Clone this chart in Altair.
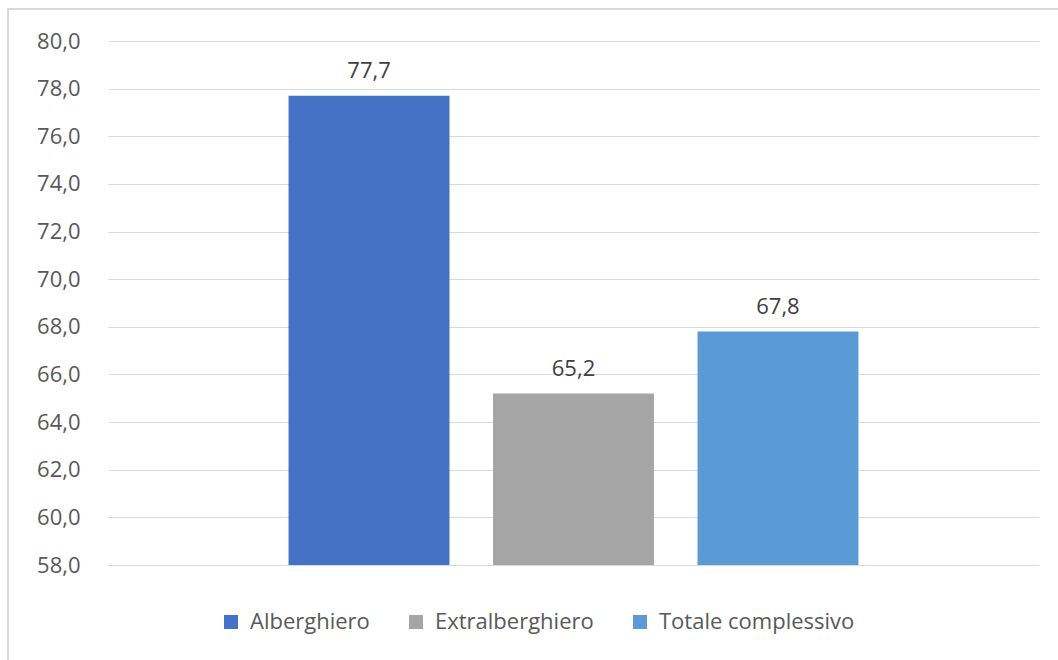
import altair as alt
import pandas as pd

# Occupancy-style index by accommodation type
series = ["Alberghiero", "Extralberghiero", "Totale complessivo"]
values = [77.7, 65.2, 67.8]
colors = ["#4472C4", "#A5A5A5", "#5B9BD5"]
y_ticks = [58, 60, 62, 64, 66, 68, 70, 72, 74, 76, 78, 80]

df = pd.DataFrame({"serie": series, "valore": values})

FONT = "Open Sans"
TXT = "#595959"
FS = 22

x_enc = alt.X(
    "serie:N",
    sort=series,
    axis=None,
    scale=alt.Scale(paddingInner=0.213, paddingOuter=0.883),
)

bars = alt.Chart(df).mark_bar().encode(
    x=x_enc,
    y=alt.Y(
        "valore:Q",
        scale=alt.Scale(domain=[58, 80], zero=False, nice=False),
        axis=alt.Axis(
            values=y_ticks,
            labelExpr="replace(format(datum.value, '.1f'), '.', ',')",
            title=None,
            domain=False,
            ticks=False,
            labelPadding=28,
            labelFont=FONT,
            labelFontSize=FS,
            labelColor=TXT,
            gridColor="#D9D9D9",
            gridWidth=1,
        ),
    ),
    y2=alt.datum(58),
    color=alt.Color(
        "serie:N",
        sort=series,
        scale=alt.Scale(domain=series, range=colors),
        legend=alt.Legend(
            title=None,
            orient="none",
            direction="horizontal",
            legendX=112,
            legendY=570,
            symbolType="square",
            symbolSize=196,
            symbolStrokeWidth=0,
            labelFont=FONT,
            labelFontSize=FS,
            labelColor=TXT,
            labelOffset=8,
            labelLimit=400,
            columnPadding=35,
        ),
    ),
)

labels = alt.Chart(df).transform_calculate(
    lab="replace(format(datum.valore, '.1f'), '.', ',')"
).mark_text(
    baseline="middle", dy=-25, font=FONT, fontSize=FS, color="#404040"
).encode(
    x=x_enc,
    y=alt.Y("valore:Q"),
    text="lab:N",
)

# Light outer frame around the chart area
frame = alt.Chart(df).mark_rect(
    fill=None, stroke="#D9D9D9", strokeWidth=1.5
).encode(
    x=alt.value(-100), x2=alt.value(960), y=alt.value(-32), y2=alt.value(640)
)

chart = alt.layer(frame, bars, labels).properties(
    width=931,
    height=524,
    padding={"left": 108, "top": 41, "right": 19, "bottom": 95},
    autosize=alt.AutoSizeParams(type="none"),
).configure(background="white").configure_view(stroke=None)

chart.save("out.html", embed_options={"renderer": "svg", "actions": False})
